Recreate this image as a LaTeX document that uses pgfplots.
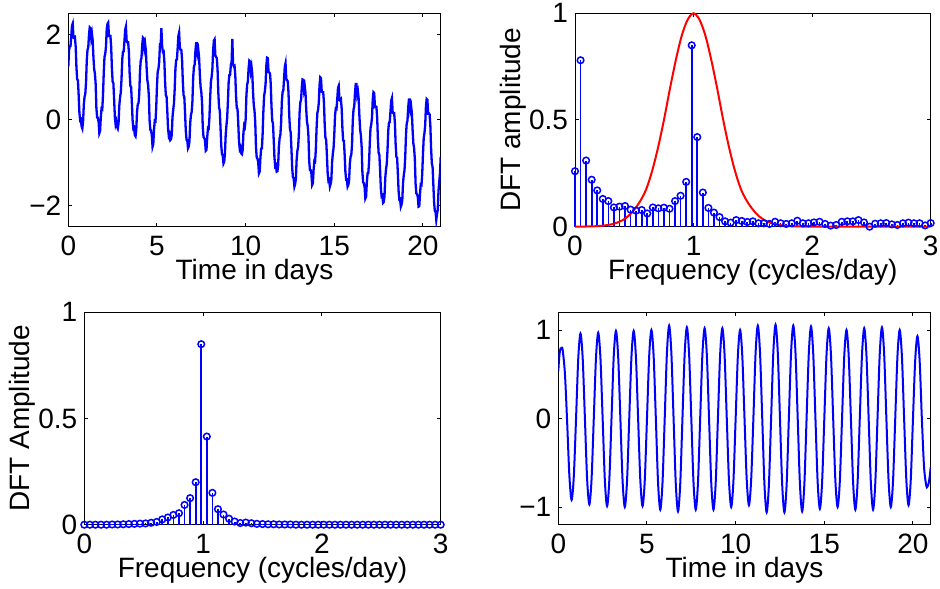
\documentclass[border=0pt]{standalone}
\usepackage{fontspec}
\setmainfont{Liberation Sans}
\usepackage{pgfplots}
\pgfplotsset{compat=1.18}
\definecolor{mblue}{RGB}{0,0,255}
\definecolor{mred}{RGB}{255,0,0}
\pgfplotsset{
  mat/.style={
    scale only axis,
    axis line style={black, line width=0.5pt},
    tick style={black, line width=0.5pt},
    major tick length=2pt,
    tick align=inside,
    /pgf/number format/assume math mode=true,
    tick label style={font=\fontsize{14}{16}\selectfont},
    label style={font=\fontsize{14}{16}\selectfont},
    xticklabel style={yshift=-1pt},
    xlabel style={yshift=5pt},
  },
  stemax/.style={clip=false, xmin=0, xmax=3, ymin=0, ymax=1,
    xtick={0,1,2,3}, xticklabels={0,1,2,3},
    ytick={0,0.5,1}, yticklabels={0,0.5,1},
    ylabel style={yshift=-5.5pt},
    xlabel={Frequency (cycles/day)}},
}
\begin{document}
\begin{tikzpicture}
\path[use as bounding box] (0,0) rectangle (470pt,294pt);
% ---------- top left
\begin{axis}[mat, at={(34.15pt,180.65pt)}, anchor=south west,
  width=186.2pt, height=106.7pt,
  xmin=0, xmax=21, ymin=-2.5, ymax=2.5,
  xtick={0,5,10,15,20}, xticklabels={0,5,10,15,20},
  ytick={-2,0,2}, yticklabels={−2,0,2},
  xlabel={Time in days}]
\addplot[mblue, line width=1.15pt] coordinates {
(0,1.25)(0.042,1.63)(0.083,1.725)(0.125,1.73)(0.167,1.966)(0.208,2.21)(0.25,2.26)(0.292,1.93)(0.333,1.926)(0.375,1.94)(0.417,1.715)(0.458,1.24)(0.5,0.95)(0.542,0.93)(0.583,0.595)(0.625,0.18)(0.667,-0.006)(0.708,0.01)(0.75,-0.15)(0.792,-0.2)(0.833,-0.036)(0.875,0.36)(0.917,0.545)(0.958,0.61)
(1,0.88)(1.042,1.40)(1.083,1.645)(1.125,1.70)(1.167,1.996)(1.208,2.17)(1.25,2.15)(1.292,1.93)(1.333,2.026)(1.375,1.87)(1.417,1.475)(1.458,1.19)(1.5,1.09)(1.542,0.85)(1.583,0.285)(1.625,0.06)(1.667,0.054)(1.708,-0.04)(1.75,-0.31)(1.792,-0.26)(1.833,0.064)(1.875,0.27)(1.917,0.255)(1.958,0.59)
(2,1.12)(2.042,1.48)(2.083,1.55)(2.125,1.72)(2.167,2.132)(2.208,2.25)(2.25,2.28)(2.292,1.97)(2.333,1.972)(2.375,1.97)(2.417,1.72)(2.458,1.22)(2.5,0.9)(2.542,0.86)(2.583,0.49)(2.625,0.08)(2.667,-0.102)(2.708,-0.04)(2.75,-0.16)(2.792,-0.2)(2.833,-0.082)(2.875,0.33)(2.917,0.53)(2.958,0.64)
(3,0.95)(3.042,1.42)(3.083,1.6)(3.125,1.61)(3.167,1.859)(3.208,2.12)(3.25,2.19)(3.292,1.84)(3.333,1.819)(3.375,1.82)(3.417,1.59)(3.458,1.1)(3.5,0.8)(3.542,0.77)(3.583,0.42)(3.625,0.0)(3.667,-0.199)(3.708,-0.18)(3.75,-0.35)(3.792,-0.38)(3.833,-0.229)(3.875,0.18)(3.917,0.37)(3.958,0.39)
(4,0.61)(4.042,1.14)(4.083,1.39)(4.125,1.45)(4.167,1.752)(4.208,1.93)(4.25,1.91)(4.292,1.69)(4.333,1.782)(4.375,1.62)(4.417,1.22)(4.458,0.93)(4.5,0.82)(4.542,0.57)(4.583,0.0)(4.625,-0.23)(4.667,-0.242)(4.708,-0.35)(4.75,-0.63)(4.792,-0.57)(4.833,-0.232)(4.875,-0.02)(4.917,-0.03)(4.958,0.29)
(5,0.8)(5.042,1.14)(5.083,1.2)(5.125,1.36)(5.167,1.76)(5.208,1.75)(5.25,2.15)(5.292,1.72)(5.333,1.6)(5.375,1.61)(5.417,1.37)(5.458,0.89)(5.5,0.58)(5.542,0.55)(5.583,0.2)(5.625,-0.2)(5.667,-0.37)(5.708,-0.33)(5.75,-0.47)(5.792,-0.45)(5.833,-0.35)(5.875,0.06)(5.917,0.24)(5.958,0.39)
(6,0.73)(6.042,1.21)(6.083,1.405)(6.125,1.42)(6.167,1.683)(6.208,1.97)(6.25,2.05)(6.292,1.69)(6.333,1.643)(6.375,1.64)(6.417,1.395)(6.458,0.9)(6.5,0.58)(6.542,0.54)(6.583,0.175)(6.625,-0.25)(6.667,-0.463)(6.708,-0.47)(6.75,-0.66)(6.792,-0.62)(6.833,-0.493)(6.875,-0.07)(6.917,0.125)(6.958,0.19)
(7,0.45)(7.042,0.99)(7.083,1.24)(7.125,1.3)(7.167,1.609)(7.208,1.8)(7.25,1.8)(7.292,1.56)(7.333,1.639)(7.375,1.47)(7.417,1.07)(7.458,0.78)(7.5,0.66)(7.542,0.41)(7.583,-0.17)(7.625,-0.4)(7.667,-0.419)(7.708,-0.48)(7.75,-0.72)(7.792,-0.7)(7.833,-0.409)(7.875,-0.19)(7.917,-0.2)(7.958,0.06)
(8,0.52)(8.042,0.9)(8.083,1.01)(8.125,1.2)(8.167,1.636)(8.208,1.86)(8.25,1.89)(8.292,1.52)(8.333,1.476)(8.375,1.45)(8.417,1.18)(8.458,0.65)(8.5,0.3)(8.542,0.22)(8.583,-0.17)(8.625,-0.6)(8.667,-0.806)(8.708,-0.82)(8.75,-1.02)(8.792,-0.98)(8.833,-0.786)(8.875,-0.35)(8.917,-0.13)(8.958,0.05)
(9,0.43)(9.042,0.88)(9.083,1.055)(9.125,1.06)(9.167,1.296)(9.208,1.35)(9.25,1.9)(9.292,1.3)(9.333,1.256)(9.375,1.27)(9.417,1.045)(9.458,0.57)(9.5,0.28)(9.542,0.26)(9.583,-0.075)(9.625,-0.49)(9.667,-0.676)(9.708,-0.64)(9.75,-0.78)(9.792,-0.8)(9.833,-0.706)(9.875,-0.31)(9.917,-0.125)(9.958,-0.16)
(10,0.01)(10.042,0.56)(10.083,0.825)(10.125,0.9)(10.167,1.213)(10.208,1.39)(10.25,1.37)(10.292,1.15)(10.333,1.243)(10.375,1.07)(10.417,0.655)(10.458,0.35)(10.5,0.22)(10.542,-0.05)(10.583,-0.635)(10.625,-0.88)(10.667,-0.903)(10.708,-0.99)(10.75,-1.25)(10.792,-1.21)(10.833,-0.893)(10.875,-0.67)(10.917,-0.665)(10.958,-0.33)
(11,0.2)(11.042,0.57)(11.083,0.665)(11.125,0.85)(11.167,1.273)(11.208,1.46)(11.25,1.45)(11.292,1.12)(11.333,1.113)(11.375,1.09)(11.417,0.835)(11.458,0.32)(11.5,-0.02)(11.542,-0.08)(11.583,-0.465)(11.625,-0.88)(11.667,-1.083)(11.708,-1.06)(11.75,-1.21)(11.792,-1.2)(11.833,-1.063)(11.875,-0.63)(11.917,-0.425)(11.958,-0.35)
(12,-0.07)(12.042,0.43)(12.083,0.655)(12.125,0.69)(12.167,0.969)(12.208,1.25)(12.25,1.33)(12.292,0.97)(12.333,0.929)(12.375,0.91)(12.417,0.645)(12.458,0.12)(12.5,-0.22)(12.542,-0.29)(12.583,-0.675)(12.625,-1.12)(12.667,-1.349)(12.708,-1.36)(12.75,-1.56)(12.792,-1.5)(12.833,-1.379)(12.875,-0.94)(12.917,-0.725)(12.958,-0.64)
(13,-0.35)(13.042,0.17)(13.083,0.415)(13.125,0.47)(13.167,0.766)(13.208,0.95)(13.25,0.94)(13.292,0.71)(13.333,0.796)(13.375,0.64)(13.417,0.245)(13.458,-0.04)(13.5,-0.14)(13.542,-0.38)(13.583,-0.945)(13.625,-1.17)(13.667,-1.176)(13.708,-1.26)(13.75,-1.52)(13.792,-1.48)(13.833,-1.166)(13.875,-0.96)(13.917,-0.975)(13.958,-0.69)
(14,-0.2)(14.042,0.16)(14.083,0.23)(14.125,0.4)(14.167,0.812)(14.208,1.0)(14.25,0.98)(14.292,0.66)(14.333,0.652)(14.375,0.65)(14.417,0.4)(14.458,-0.1)(14.5,-0.42)(14.542,-0.47)(14.583,-0.83)(14.625,-1.24)(14.667,-1.422)(14.708,-1.4)(14.75,-1.56)(14.792,-1.5)(14.833,-1.402)(14.875,-0.99)(14.917,-0.79)(14.958,-0.66)
(15,-0.33)(15.042,0.11)(15.083,0.27)(15.125,0.26)(15.167,0.493)(15.208,0.75)(15.25,0.8)(15.292,0.47)(15.333,0.453)(15.375,0.48)(15.417,0.26)(15.458,-0.2)(15.5,-0.48)(15.542,-0.49)(15.583,-0.81)(15.625,-1.21)(15.667,-1.393)(15.708,-1.39)(15.75,-1.56)(15.792,-1.52)(15.833,-1.423)(15.875,-1.03)(15.917,-0.86)(15.958,-0.82)
(16,-0.57)(16.042,-0.02)(16.083,0.245)(16.125,0.32)(16.167,0.633)(16.208,0.84)(16.25,0.84)(16.292,0.59)(16.333,0.663)(16.375,0.49)(16.417,0.075)(16.458,-0.23)(16.5,-0.36)(16.542,-0.63)(16.583,-1.215)(16.625,-1.46)(16.667,-1.483)(16.708,-1.57)(16.75,-1.84)(16.792,-1.8)(16.833,-1.473)(16.875,-1.25)(16.917,-1.245)(16.958,-1.0)
(17,-0.55)(17.042,-0.19)(17.083,-0.11)(17.125,0.06)(17.167,0.479)(17.208,0.65)(17.25,0.63)(17.292,0.31)(17.333,0.319)(17.375,0.31)(17.417,0.06)(17.458,-0.45)(17.5,-0.77)(17.542,-0.82)(17.583,-1.19)(17.625,-1.6)(17.667,-1.789)(17.708,-1.77)(17.75,-1.94)(17.792,-1.92)(17.833,-1.769)(17.875,-1.35)(17.917,-1.15)(17.958,-1.03)
(18,-0.71)(18.042,-0.25)(18.083,-0.06)(18.125,-0.05)(18.167,0.199)(18.208,0.45)(18.25,0.51)(18.292,0.17)(18.333,0.159)(18.375,0.16)(18.417,-0.07)(18.458,-0.56)(18.5,-0.86)(18.542,-0.89)(18.583,-1.24)(18.625,-1.66)(18.667,-1.859)(18.708,-1.85)(18.75,-2.03)(18.792,-1.98)(18.833,-1.889)(18.875,-1.48)(18.917,-1.29)(18.958,-1.18)
(19,-0.87)(19.042,-0.34)(19.083,-0.08)(19.125,-0.02)(19.167,0.289)(19.208,0.48)(19.25,0.48)(19.292,0.24)(19.333,0.319)(19.375,0.15)(19.417,-0.25)(19.458,-0.55)(19.5,-0.66)(19.542,-0.92)(19.583,-1.49)(19.625,-1.72)(19.667,-1.739)(19.708,-1.8)(19.75,-2.03)(19.792,-2.02)(19.833,-1.729)(19.875,-1.51)(19.917,-1.52)(19.958,-1.26)
(20,-0.8)(20.042,-0.42)(20.083,-0.31)(20.125,-0.12)(20.167,0.316)(20.208,0.49)(20.25,0.47)(20.292,0.15)(20.333,0.156)(20.375,0.13)(20.417,-0.14)(20.458,-0.67)(20.5,-1.02)(20.542,-1.1)(20.583,-1.49)(20.625,-1.92)(20.667,-2.126)(20.708,-2.14)(20.75,-2.34)(20.792,-2.2)(20.833,-2.106)(20.875,-1.67)(20.917,-1.45)(20.958,-1.26)(21,-0.86)
};
\end{axis}
% ---------- top right
\begin{axis}[mat, stemax, at={(287.5pt,180.65pt)}, anchor=south west,
  width=177.85pt, height=106.7pt,
  ylabel={DFT amplitude}]
\addplot[color=mblue, ycomb, line width=0.85pt, mark=o, mark size=1.65pt, mark options={line width=0.75pt, fill=none}] table {
0 0.26
0.046875 0.78
0.09375 0.31
0.140625 0.22
0.1875 0.17
0.234375 0.13
0.28125 0.12
0.328125 0.09
0.375 0.094
0.421875 0.097
0.46875 0.08
0.515625 0.075
0.5625 0.078
0.609375 0.062
0.65625 0.09
0.703125 0.086
0.75 0.089
0.796875 0.084
0.84375 0.12
0.890625 0.145
0.9375 0.21
0.984375 0.85
1.03125 0.42
1.078125 0.16
1.125 0.088
1.171875 0.066
1.21875 0.045
1.265625 0.025
1.3125 0.019
1.359375 0.031
1.40625 0.027
1.453125 0.022
1.5 0.025
1.546875 0.016
1.59375 0.016
1.640625 0.013
1.6875 0.023
1.734375 0.016
1.78125 0.013
1.828125 0.016
1.875 0.028
1.921875 0.016
1.96875 0.016
2.015625 0.02
2.0625 0.023
2.109375 0.013
2.15625 0.005
2.203125 0.008
2.25 0.023
2.296875 0.025
2.34375 0.025
2.390625 0.031
2.4375 0.02
2.484375 0.0
2.53125 0.014
2.578125 0.016
2.625 0.017
2.671875 0.011
2.71875 0.008
2.765625 0.016
2.8125 0.019
2.859375 0.016
2.90625 0.016
2.953125 0.006
3.0 0.017
};
\addplot[mred, line width=1pt, smooth] table {
0 0
0.1 0.001
0.2 0.003
0.3 0.01
0.35 0.018
0.4 0.03
0.45 0.05
0.5 0.08
0.55 0.12
0.6 0.175
0.65 0.26
0.7 0.37
0.75 0.5
0.8 0.645
0.85 0.78
0.9 0.895
0.95 0.97
1.0 1.0
1.05 0.97
1.1 0.895
1.15 0.78
1.2 0.645
1.25 0.5
1.3 0.37
1.35 0.26
1.4 0.175
1.45 0.12
1.5 0.08
1.55 0.05
1.6 0.03
1.65 0.018
1.7 0.01
1.8 0.003
1.9 0.001
2.0 0
2.5 0
3.0 0
};
\end{axis}
% ---------- bottom left
\begin{axis}[mat, stemax, at={(42.15pt,31.65pt)}, anchor=south west,
  width=178.2pt, height=106.2pt,
  ylabel={DFT Amplitude}]
\addplot[color=mblue, ycomb, line width=0.85pt, mark=o, mark size=1.65pt, mark options={line width=0.75pt, fill=none}] table {
0 0
0.046875 0
0.09375 0
0.140625 0
0.1875 0
0.234375 0.001
0.28125 0.001
0.328125 0.002
0.375 0.003
0.421875 0.004
0.46875 0.005
0.515625 0.006
0.5625 0.009
0.609375 0.013
0.65625 0.025
0.703125 0.034
0.75 0.046
0.796875 0.054
0.84375 0.093
0.890625 0.125
0.9375 0.2
0.984375 0.85
1.03125 0.415
1.078125 0.15
1.125 0.073
1.171875 0.048
1.21875 0.028
1.265625 0.015
1.3125 0.008
1.359375 0.01
1.40625 0.007
1.453125 0.004
1.5 0.003
1.546875 0.002
1.59375 0.002
1.640625 0.001
1.6875 0.001
1.734375 0.001
1.78125 0
1.828125 0
1.875 0
1.921875 0
1.96875 0
2.015625 0
2.0625 0
2.109375 0
2.15625 0
2.203125 0
2.25 0
2.296875 0
2.34375 0
2.390625 0
2.4375 0
2.484375 0
2.53125 0
2.578125 0
2.625 0
2.671875 0
2.71875 0
2.765625 0
2.8125 0
2.859375 0
2.90625 0
2.953125 0
3.0 0
};
\end{axis}
% ---------- bottom right
\begin{axis}[mat, at={(279.15pt,31.65pt)}, anchor=south west,
  width=186.2pt, height=106.2pt,
  xmin=0, xmax=21, ymin=-1.2, ymax=1.2,
  xtick={0,5,10,15,20}, xticklabels={0,5,10,15,20},
  ytick={-1,0,1}, yticklabels={−1,0,1},
  xlabel={Time in days}]
\addplot[mblue, line width=1pt, smooth] table {
0 0.54
0.0625 0.72
0.125 0.79
0.19 0.80
0.25 0.77
0.375 0.5
0.5 -0.05
0.625 -0.65
0.75 -0.92
0.875 -0.65
1 0
1.125 0.679
1.25 0.96
1.375 0.679
1.5 0
1.625 -0.686
1.75 -0.97
1.875 -0.686
2 0
2.125 0.686
2.25 0.97
2.375 0.686
2.5 0
2.625 -0.7
2.75 -0.99
2.875 -0.7
3 0
3.125 0.7
3.25 0.99
3.375 0.7
3.5 0
3.625 -0.707
3.75 -1.0
3.875 -0.707
4 0
4.125 0.7
4.25 0.99
4.375 0.7
4.5 0
4.625 -0.7
4.75 -0.99
4.875 -0.7
5 0
5.125 0.707
5.25 1.0
5.375 0.707
5.5 0
5.625 -0.728
5.75 -1.03
5.875 -0.728
6 0
6.125 0.742
6.25 1.05
6.375 0.742
6.5 0
6.625 -0.742
6.75 -1.05
6.875 -0.742
7 0
7.125 0.728
7.25 1.03
7.375 0.728
7.5 0
7.625 -0.728
7.75 -1.03
7.875 -0.728
8 0
8.125 0.721
8.25 1.02
8.375 0.721
8.5 0
8.625 -0.728
8.75 -1.03
8.875 -0.728
9 0
9.125 0.721
9.25 1.02
9.375 0.721
9.5 0
9.625 -0.707
9.75 -1.0
9.875 -0.707
10 0
10.125 0.707
10.25 1.0
10.375 0.707
10.5 0
10.625 -0.693
10.75 -0.98
10.875 -0.693
11 0
11.125 0.742
11.25 1.05
11.375 0.742
11.5 0
11.625 -0.749
11.75 -1.06
11.875 -0.749
12 0
12.125 0.749
12.25 1.06
12.375 0.749
12.5 0
12.625 -0.749
12.75 -1.06
12.875 -0.749
13 0
13.125 0.742
13.25 1.05
13.375 0.742
13.5 0
13.625 -0.742
13.75 -1.05
13.875 -0.742
14 0
14.125 0.735
14.25 1.04
14.375 0.735
14.5 0
14.625 -0.721
14.75 -1.02
14.875 -0.721
15 0
15.125 0.721
15.25 1.02
15.375 0.721
15.5 0
15.625 -0.707
15.75 -1.0
15.875 -0.707
16 0
16.125 0.707
16.25 1.0
16.375 0.707
16.5 0
16.625 -0.728
16.75 -1.03
16.875 -0.728
17 0
17.125 0.721
17.25 1.02
17.375 0.721
17.5 0
17.625 -0.728
17.75 -1.03
17.875 -0.728
18 0
18.125 0.728
18.25 1.03
18.375 0.728
18.5 0
18.625 -0.707
18.75 -1.0
18.875 -0.707
19 0
19.125 0.707
19.25 1.0
19.375 0.707
19.5 0
19.625 -0.693
19.75 -0.98
19.875 -0.693
20 0
20.125 0.658
20.25 0.93
20.375 0.658
20.5 0
20.625 -0.55
20.75 -0.76
20.81 -0.77
20.875 -0.74
20.94 -0.66
21 -0.55
};
\end{axis}
\end{tikzpicture}
\end{document}
